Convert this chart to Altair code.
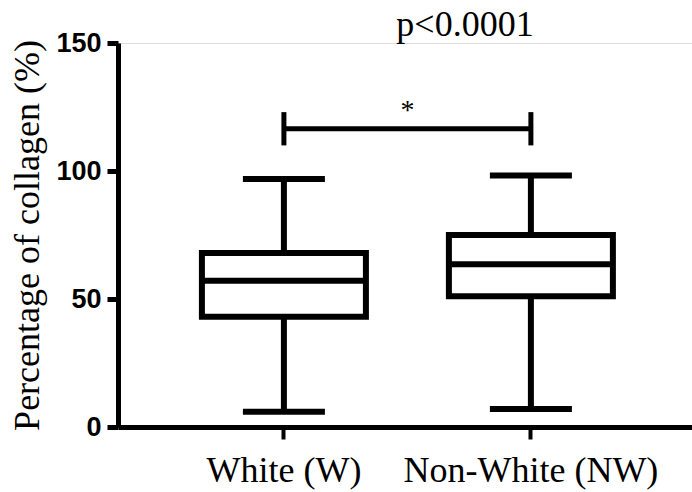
import altair as alt
import pandas as pd

# Summary statistics of collagen percentage per group
groups = ["White (W)", "Non-White (NW)"]
whisker_low = [6.0, 7.0]
q1 = [43.1, 51.1]
median = [57.1, 63.6]
q3 = [68.0, 75.0]
whisker_high = [96.9, 98.2]

# Significance bracket between the two groups
bracket_level = 116.5
bracket_low = 110.0
bracket_high = 123.0
star_level = 123.5
p_label = "p<0.0001"

W, H = 574, 384
SERIF = "Liberation Serif"
SANS = "Liberation Sans"
LW = 6

df = pd.DataFrame({
    "group": groups,
    "lo": whisker_low,
    "q1": q1,
    "med": median,
    "q3": q3,
    "hi": whisker_high,
})

bracket = pd.DataFrame({
    "group": groups,
    "level": [bracket_level] * 2,
    "b_lo": [bracket_low] * 2,
    "b_hi": [bracket_high] * 2,
})

x_scale = alt.Scale(domain=groups, paddingInner=0, paddingOuter=0.162, align=0.53)
x_enc = alt.X(
    "group:N",
    scale=x_scale,
    sort=groups,
    axis=alt.Axis(
        title=None,
        labelAngle=0,
        labelFont=SERIF,
        labelFontSize=36,
        labelColor="black",
        labelBaseline="alphabetic",
        labelPadding=42,
        labelLimit=0,
        labelOverlap=False,
        tickSize=12,
        tickWidth=4,
        tickColor="black",
        domainWidth=5,
        domainColor="black",
    ),
)
y_scale = alt.Scale(domain=[0, 150], nice=False)
y_enc = alt.Y(
    "lo:Q",
    scale=y_scale,
    axis=alt.Axis(
        title="Percentage of collagen (%)",
        values=[0, 50, 100, 150],
        grid=False,
        labelFont=SANS,
        labelFontWeight="bold",
        labelFontSize=27,
        labelColor="black",
        labelPadding=6,
        tickSize=11,
        tickWidth=5,
        tickColor="black",
        domainWidth=5,
        domainColor="black",
        titleFont=SERIF,
        titleFontSize=36,
        titleFontWeight="normal",
        titleColor="black",
        titleX=-91,
        titleY=H / 2,
        titleBaseline="middle",
        titleAngle=270,
    ),
)

base = alt.Chart(df)

whiskers = base.mark_rule(color="black", strokeWidth=LW).encode(
    x=x_enc, y=y_enc, y2="hi:Q"
)
boxes = base.mark_bar(
    size=164, fill="white", stroke="black", strokeWidth=LW
).encode(x="group:N", y="q1:Q", y2="q3:Q")
medians = base.mark_tick(
    size=164, thickness=LW, color="black", opacity=1
).encode(x="group:N", y="med:Q")
cap_lo = base.mark_tick(
    size=82, thickness=LW, color="black", opacity=1
).encode(x="group:N", y="lo:Q")
cap_hi = base.mark_tick(
    size=82, thickness=LW, color="black", opacity=1
).encode(x="group:N", y="hi:Q")

# Bracket: horizontal bar joining the group centres, with end stops
bline = alt.Chart(bracket).mark_line(color="black", strokeWidth=5, strokeCap="butt").encode(
    x="group:N", y="level:Q"
)
bends = alt.Chart(bracket).mark_rule(color="black", strokeWidth=5).encode(
    x="group:N", y="b_lo:Q", y2="b_hi:Q"
)

step = W / (2 + 2 * 0.162)
star = alt.Chart(pd.DataFrame({"group": [groups[0]], "v": [star_level], "t": ["*"]})).mark_text(
    font=SERIF, fontSize=28, color="black", dx=step / 2, baseline="middle"
).encode(x="group:N", y="v:Q", text="t:N")

chart = (
    alt.layer(whiskers, boxes, medians, cap_lo, cap_hi, bline, bends, star)
    .properties(
        width=W,
        height=H,
        title=alt.TitleParams(
            p_label,
            font=SERIF,
            fontSize=36,
            fontWeight="normal",
            color="black",
            anchor="middle",
            dx=60,
            offset=-15,
        ),
        autosize=alt.AutoSizeParams(type="none"),
        padding={"left": 118, "top": 43, "right": 0, "bottom": 65},
    )
    .configure_view(stroke=None)
    .configure(background="white")
)

chart.save("out.html", embed_options={"renderer": "svg", "actions": False})
